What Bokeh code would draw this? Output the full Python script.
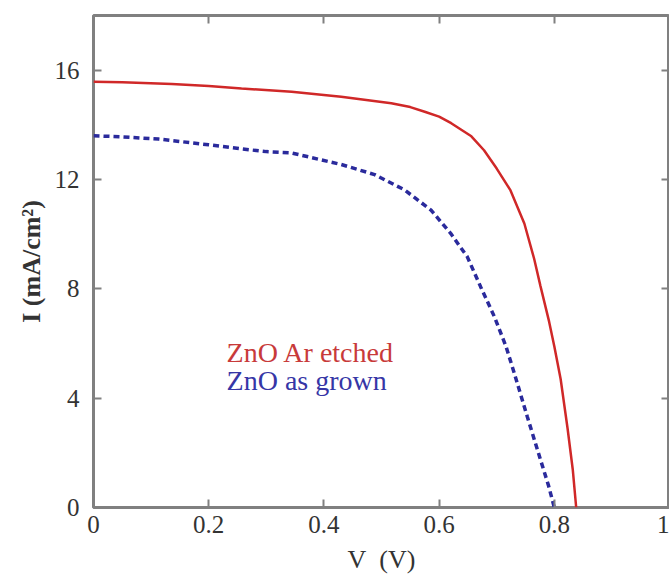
from bokeh.plotting import figure
from bokeh.models import LinearAxis, Label, FixedTicker, Range1d
from bokeh.embed import file_html
from bokeh.resources import INLINE

# ---- data ----
v_etched = [0.0, 0.05, 0.136, 0.2, 0.257, 0.344, 0.43, 0.517, 0.55, 0.575, 0.6, 0.621, 0.656,
            0.678, 0.70, 0.724, 0.748, 0.765, 0.776, 0.791, 0.80, 0.811, 0.823, 0.832, 0.838]
i_etched = [15.58, 15.56, 15.49, 15.42, 15.33, 15.21, 15.03, 14.79, 14.65, 14.48, 14.3, 14.06, 13.58,
            13.07, 12.4, 11.6, 10.39, 9.1, 8.1, 6.8, 5.9, 4.7, 2.9, 1.4, 0.0]

v_grown = [0.0, 0.05, 0.113, 0.2, 0.257, 0.3, 0.344, 0.43, 0.488, 0.54, 0.586, 0.62,
           0.649, 0.672, 0.696, 0.716, 0.73, 0.753, 0.776, 0.79, 0.80]
i_grown = [13.6, 13.56, 13.48, 13.27, 13.12, 13.02, 12.97, 12.55, 12.18, 11.62, 10.88, 10.03,
           9.17, 8.08, 6.98, 5.9, 4.95, 3.33, 1.75, 0.8, 0.0]

x_ticks = [0, 0.2, 0.4, 0.6, 0.8, 1.0]
x_tick_labels = ["0", "0.2", "0.4", "0.6", "0.8", "1"]
y_ticks = [0, 4, 8, 12, 16]
y_tick_labels = ["0", "4", "8", "12", "16"]

series_names = ["ZnO Ar etched", "ZnO as grown"]
series_label_pos = [(0.231, 5.67), (0.231, 4.63)]

FONT = "Times"
GRAY = "#808080"
RED = "#d02828"
BLUE = "#2a2a9c"

p = figure(width=669, height=581, output_backend="svg", toolbar_location=None,
           x_range=Range1d(0, 1), y_range=Range1d(0, 18),
           x_axis_label="V\u00a0 (V)", y_axis_label="I (mA/cm²)",
           min_border_left=93, min_border_right=0, min_border_top=15, min_border_bottom=74)
p.background_fill_color = "white"
p.border_fill_color = "white"
p.outline_line_color = GRAY
p.outline_line_width = 3
p.xgrid.visible = False
p.ygrid.visible = False

for ax, ticks, labels in ((p.xaxis[0], x_ticks, x_tick_labels), (p.yaxis[0], y_ticks, y_tick_labels)):
    ax.ticker = FixedTicker(ticks=ticks)
    ax.major_label_overrides = {t: l for t, l in zip(ticks, labels)}
    ax.axis_line_color = None
    ax.major_tick_in = 8
    ax.major_tick_out = 0
    ax.major_tick_line_color = GRAY
    ax.major_tick_line_width = 2
    ax.minor_tick_line_color = None
    ax.major_label_text_font = FONT
    ax.major_label_text_font_size = "25px"
    ax.major_label_text_color = "#333333"
    ax.axis_label_text_font = FONT
    ax.axis_label_text_font_size = "26px"
    ax.axis_label_text_font_style = "normal"
    ax.axis_label_text_color = "#333333"

p.xaxis[0].major_label_standoff = 8
p.xaxis[0].axis_label_standoff = 9
p.yaxis[0].major_label_standoff = 14
p.yaxis[0].axis_label_standoff = 6
p.yaxis[0].axis_label_text_font_style = "bold"

for side, ticks in (("above", x_ticks), ("right", y_ticks)):
    ax = LinearAxis(ticker=FixedTicker(ticks=ticks))
    ax.major_label_overrides = {t: "" for t in ticks}
    ax.axis_line_color = None
    ax.major_tick_in = 8
    ax.major_tick_out = 0
    ax.major_tick_line_color = GRAY
    ax.major_tick_line_width = 2
    ax.minor_tick_line_color = None
    ax.major_label_standoff = 0
    p.add_layout(ax, side)

p.line(v_etched, i_etched, line_color=RED, line_width=2.5)
p.line(v_grown, i_grown, line_color=BLUE, line_width=3.5, line_dash="6 4")

for name, (lx, ly), col in zip(series_names, series_label_pos, ["#c83a3a", "#3636a6"]):
    p.add_layout(Label(x=lx, y=ly, text=name, text_font=FONT, text_font_size="28px",
                       text_color=col, text_baseline="alphabetic"))

open("out.html", "w").write(file_html(p, INLINE))
